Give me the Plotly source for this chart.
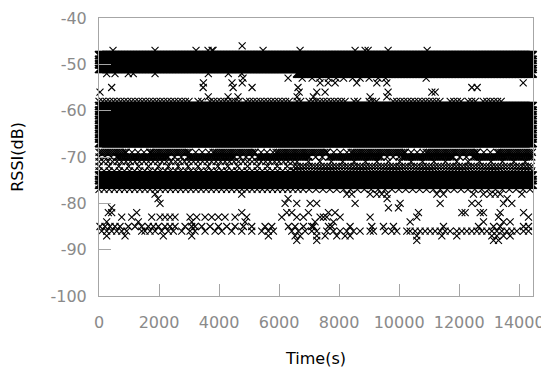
import numpy as np
import plotly.graph_objects as go

# ---- data (RSSI in dB, time in s) ----
# near-continuous RSSI levels: (level, start, end, sampling interval)
band_levels = [
    (-48, 0, 14450, 25), (-49, 0, 14450, 25), (-50, 0, 14450, 25), (-51, 0, 14450, 25),
    (-52, 6600, 14450, 25),
    (-59, 0, 14450, 25), (-60, 0, 14450, 25), (-61, 0, 14450, 25), (-62, 0, 14450, 25),
    (-63, 0, 14450, 25), (-64, 0, 14450, 25), (-65, 0, 14450, 25), (-66, 0, 14450, 25),
    (-67, 0, 14450, 25),
    (-74, 0, 14450, 25), (-75, 0, 14450, 25), (-76, 0, 14450, 25),
]
# partly filled levels
partial_levels = [
    (-58, 0, 3100, 120), (-58, 3300, 3500, 120), (-58, 3700, 4700, 120), (-58, 4900, 6400, 120),
    (-58, 6600, 6800, 120), (-58, 7000, 8300, 120), (-58, 8500, 8700, 120), (-58, 9000, 9300, 120),
    (-58, 9800, 11400, 120), (-58, 11700, 12100, 120), (-58, 12300, 12600, 120), (-58, 12800, 13500, 120),
    (-69, 0, 900, 60), (-69, 900, 1700, 200), (-69, 1700, 3000, 60), (-69, 3000, 3800, 220),
    (-69, 3800, 5200, 60), (-69, 5200, 5900, 200), (-69, 5900, 7600, 60), (-69, 7600, 8400, 220),
    (-69, 8400, 10200, 60), (-69, 10200, 10900, 200), (-69, 10900, 12600, 60),
    (-69, 12600, 13300, 220), (-69, 13300, 14450, 60),
    (-70, 0, 600, 200), (-70, 600, 2300, 60), (-70, 2300, 3000, 220), (-70, 3000, 4500, 60),
    (-70, 4500, 5300, 200), (-70, 5300, 7000, 60), (-70, 7000, 7700, 220), (-70, 7700, 9400, 60),
    (-70, 9400, 10100, 200), (-70, 10100, 11800, 60), (-70, 11800, 12500, 220),
    (-70, 12500, 14450, 60),
    (-71, 0, 6500, 150), (-71, 6600, 14450, 380),
    (-72, 0, 6500, 330), (-72, 6500, 14450, 100),
    (-73, 0, 6500, 170), (-73, 6500, 14450, 110),
    (-77, 0, 6800, 170), (-77, 7000, 14450, 230),
]
# scattered readings
scatter_points = {
    -46: [4770],
    -47: [467, 1867, 3233, 3633, 3767, 3800, 5467, 6700, 8533, 8867, 8967, 9633, 10933],
    -52: [256, 533, 977, 1143, 1867, 3643, 4310, 4757],
    -53: [4800, 6300, 6770, 7100, 7350, 7650, 7900, 8150, 8450, 8700, 9000, 9300, 9550, 10900],
    -54: [3480, 4430, 4770, 7367, 7633, 7867, 8589, 9256, 9590, 14133],
    -55: [422, 3470, 4470, 5100, 6630, 12422, 12600],
    -56: [33, 6670, 7256, 7533, 9633, 11089, 11200],
    -57: [3640, 4300, 4630, 6600, 7144, 9033, 9589],
    -78: [1867, 4755, 8255, 8421, 9033, 9255, 9422, 9588, 11255, 11477, 12477, 12810,
          13033, 13199, 13366, 14088],
    -79: [1967, 6300, 9600, 13600],
    -80: [2033, 6200, 6589, 7033, 7255, 8533, 10033, 11366, 12422, 12644, 13477, 13755],
    -81: [422, 9644, 9977],
    -82: [311, 422, 1256, 4756, 6256, 6422, 6978, 7644, 7866, 10644, 12089, 12200, 12699,
          12811, 13366, 14144],
    -83: [756, 1089, 1756, 2033, 2200, 2367, 2533, 3033, 3256, 3533, 3756, 3978, 4200, 4533,
          4922, 6089, 6589, 6811, 7366, 7477, 7588, 8033, 9033, 10588, 13310, 14310],
    -84: [256, 1311, 3089, 4867, 7200, 7811, 10366, 12811, 13477, 13700],
    -85: [33, 200, 367, 533, 700, 978, 1200, 1422, 1644, 1811, 1978, 2200, 2367, 2533, 2867,
          3089, 3200, 3422, 3700, 3978, 4256, 4533, 4811, 5089, 5533, 5756, 6311, 6533, 6811,
          7089, 7144, 7644, 7755, 8366, 9089, 9477, 9810, 11477, 12644, 13144, 13366, 14144,
          14310],
    -86: [89, 256, 422, 589, 756, 922, 1422, 1533, 1700, 1867, 2089, 2311, 2478, 2756, 3033,
          3200, 3533, 3867, 4089, 4422, 4756, 5089, 5422, 5644, 5811, 6422, 6644, 6867, 7089,
          7255, 7588, 7811, 8033, 8255, 8477, 8699, 9033, 9144, 9533, 9755, 9922, 10255,
          10366, 10533, 10699, 10866, 11033, 11199, 11366, 11533, 11699, 11921, 12088, 12255,
          12421, 12588, 12755, 12921, 13088, 13255, 13421, 13588, 13755, 13921, 14144, 14310],
    -87: [256, 867, 2144, 3089, 5644, 6533, 6700, 7255, 7533, 7922, 8200, 8366, 10588, 11422,
          11921, 13088, 13255, 13477, 13699],
    -88: [6589, 7255, 10588, 13144, 13310],
}

x_ticks = [0, 2000, 4000, 6000, 8000, 10000, 12000, 14000]
y_ticks = [-100, -90, -80, -70, -60, -50, -40]

# ---- assemble points ----
def expand(levels):
    ts, rs = [], []
    for lvl, a, b, step in levels:
        t = np.arange(a, b + 1, step)
        ts.extend(t.tolist())
        rs.extend([lvl] * len(t))
    return ts, rs

band_t, band_r = expand(band_levels)
part_t, part_r = expand(partial_levels)
sc_t, sc_r = [], []
for lvl, tl in scatter_points.items():
    sc_t.extend(tl)
    sc_r.extend([lvl] * len(tl))

fig = go.Figure()
fig.add_trace(go.Scatter(
    x=band_t, y=band_r, mode="markers", cliponaxis=False,
    marker=dict(symbol="x-thin", size=8, color="black", line=dict(width=1.6, color="black")),
    showlegend=False, hoverinfo="skip"))
fig.add_trace(go.Scatter(
    x=part_t + sc_t, y=part_r + sc_r, mode="markers", cliponaxis=False,
    marker=dict(symbol="x-thin", size=7, color="black", line=dict(width=1.1, color="black")),
    showlegend=False, hoverinfo="skip"))

axis_common = dict(
    showline=True, linecolor="#a6a6a6", linewidth=1, mirror=True,
    ticks="inside", ticklen=12, tickcolor="#a6a6a6", tickwidth=1,
    showgrid=False, zeroline=False, automargin=False, ticklabeloverflow="allow",
    tickfont=dict(family="DejaVu Sans", size=16, color="#8a8a8a"),
)
fig.update_xaxes(range=[0, 14460], tickvals=x_ticks, ticktext=[str(v) for v in x_ticks],
                 title=dict(text="Time(s)", font=dict(family="DejaVu Sans", size=16, color="black"),
                            standoff=21),
                 ticklabelstandoff=12, **axis_common)
fig.update_yaxes(range=[-100, -40], tickvals=y_ticks, ticktext=[str(v) for v in y_ticks],
                 title=dict(text="RSSI(dB)", font=dict(family="DejaVu Sans", size=16, color="black"),
                            standoff=22),
                 ticklabelstandoff=8, **axis_common)
# the page adds an 8 px body margin, so the figure itself is 8 px smaller
fig.update_layout(width=541, height=361, margin=dict(l=91, r=16, t=10, b=73),
                  paper_bgcolor="white", plot_bgcolor="white")
fig.write_html("out.html")
